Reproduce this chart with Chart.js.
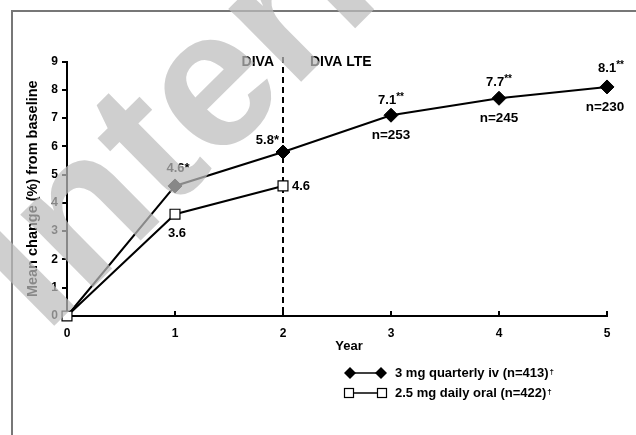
<!DOCTYPE html>
<html>
<head>
<meta charset="utf-8">
<script src="https://cdn.jsdelivr.net/npm/chart.js@4.4.1/dist/chart.umd.min.js"></script>
<style>
  html, body { margin: 0; padding: 0; background: #fff; }
  #wrap { width: 636px; height: 435px; position: relative; }
</style>
</head>
<body>
<div id="wrap"><canvas id="chart"></canvas></div>
<script>
// Data
const years = [0, 1, 2, 3, 4, 5];
const ivValues = [0, 4.6, 5.8, 7.1, 7.7, 8.1];
const ivStars = ['', '*', '*', '**', '**', '**'];
const ivCounts = ['', '', '', 'n=253', 'n=245', 'n=230'];
const oralYears = [0, 1, 2];
const oralValues = [0, 3.6, 4.6];
const ivLegend = '3 mg quarterly iv (n=413)';
const oralLegend = '2.5 mg daily oral (n=422)';
const studySplitYear = 2;
const studyNames = ['DIVA', 'DIVA LTE'];

const FONT = "'Liberation Sans', Arial, sans-serif";
Chart.defaults.font.family = FONT;
Chart.defaults.color = '#000';

function bold(px) { return 'bold ' + px + 'px ' + FONT; }

// draws "5.8" + stars (double stars smaller, raised)
function valueLabel(ctx, value, stars, x, y, align) {
  const main = value.toFixed(1);
  const starSize = stars.length > 1 ? 10 : 13;
  ctx.font = bold(13);
  const w1 = ctx.measureText(main).width;
  ctx.font = bold(starSize);
  const w2 = ctx.measureText(stars).width;
  const total = w1 + w2;
  let left = x - total / 2;
  if (align === 'right') left = x - total;
  if (align === 'left') left = x;
  ctx.textAlign = 'left';
  ctx.textBaseline = 'middle';
  ctx.font = bold(13);
  ctx.fillText(main, left, y);
  ctx.font = bold(starSize);
  ctx.fillText(stars, left + w1, stars.length > 1 ? y - 3 : y);
}

function diamond(ctx, x, y, r) {
  ctx.beginPath();
  ctx.moveTo(x, y - r); ctx.lineTo(x + r, y); ctx.lineTo(x, y + r); ctx.lineTo(x - r, y);
  ctx.closePath();
  ctx.fillStyle = '#000';
  ctx.fill();
}

function square(ctx, x, y, h) {
  ctx.fillStyle = '#fff';
  ctx.fillRect(x - h, y - h, 2 * h, 2 * h);
  ctx.strokeStyle = '#000';
  ctx.lineWidth = 1.2;
  ctx.strokeRect(x - h, y - h, 2 * h, 2 * h);
}

const overlay = {
  id: 'overlay',
  beforeDraw(chart) {
    const ctx = chart.ctx;
    ctx.save();
    ctx.strokeStyle = '#777';
    ctx.lineWidth = 2;
    ctx.beginPath();
    ctx.moveTo(12, chart.height);
    ctx.lineTo(12, 11);
    ctx.lineTo(chart.width, 11);
    ctx.stroke();
    ctx.restore();
  },
  beforeDatasetsDraw(chart) {
    const ctx = chart.ctx;
    const xs = chart.scales.x;
    const ys = chart.scales.y;
    const sx = xs.getPixelForValue(studySplitYear);
    ctx.save();
    ctx.strokeStyle = '#000';
    ctx.lineWidth = 2;
    ctx.setLineDash([6, 4]);
    ctx.beginPath();
    ctx.moveTo(sx, 57);
    ctx.lineTo(sx, ys.getPixelForValue(0));
    ctx.stroke();
    ctx.setLineDash([]);
    ctx.font = bold(14);
    ctx.textBaseline = 'middle';
    ctx.textAlign = 'right';
    ctx.fillText(studyNames[0], sx - 9, 62);
    ctx.textAlign = 'left';
    ctx.fillText(studyNames[1], sx + 27, 62);
    ctx.restore();
  },
  afterDatasetsDraw(chart) {
    const ctx = chart.ctx;
    const xs = chart.scales.x;
    const ys = chart.scales.y;
    const iv = chart.getDatasetMeta(0).data;
    const oral = chart.getDatasetMeta(1).data;
    ctx.save();
    ctx.fillStyle = '#000';

    // value labels, iv
    valueLabel(ctx, ivValues[1], ivStars[1], iv[1].x + 3, iv[1].y - 18, 'center');
    valueLabel(ctx, ivValues[2], ivStars[2], iv[2].x - 4, iv[2].y - 12, 'right');
    const aboveDy = [0, 0, 0, -15, -16, -19];
    for (let i = 3; i < years.length; i++) {
      valueLabel(ctx, ivValues[i], ivStars[i], iv[i].x + (i === 5 ? 4 : 0), iv[i].y + aboveDy[i], 'center');
    }
    ctx.font = bold(13.5);
    ctx.textAlign = 'center';
    ctx.textBaseline = 'middle';
    for (let i = 3; i < years.length; i++) {
      ctx.fillText(ivCounts[i], iv[i].x + (i === 5 ? -2 : 0), iv[i].y + 20);
    }
    // value labels, oral
    ctx.font = bold(13);
    ctx.fillText(oralValues[1].toFixed(1), oral[1].x + 2, oral[1].y + 19);
    ctx.textAlign = 'left';
    ctx.fillText(oralValues[2].toFixed(1), oral[2].x + 9, oral[2].y);

    // x ticks pointing up
    const by = ys.getPixelForValue(0);
    ctx.strokeStyle = '#000';
    ctx.lineWidth = 2;
    for (let i = 1; i < years.length; i++) {
      const px = xs.getPixelForValue(years[i]);
      ctx.beginPath();
      ctx.moveTo(px, by);
      ctx.lineTo(px, by - 5);
      ctx.stroke();
    }

    // axis title
    ctx.font = bold(13);
    ctx.textAlign = 'center';
    ctx.fillText('Year', 349, 346);

    // legend
    const lx1 = 350, lx2 = 381;
    ctx.lineWidth = 1.5;
    ctx.beginPath(); ctx.moveTo(lx1, 373); ctx.lineTo(lx2, 373); ctx.stroke();
    diamond(ctx, lx1, 373, 6);
    diamond(ctx, lx2, 373, 6);
    ctx.strokeStyle = '#000';
    ctx.lineWidth = 1.5;
    ctx.beginPath(); ctx.moveTo(lx1, 393); ctx.lineTo(lx2, 393); ctx.stroke();
    square(ctx, lx1 - 1, 393, 4.5);
    square(ctx, lx2 + 1, 393, 4.5);
    ctx.fillStyle = '#000';
    ctx.font = bold(13);
    ctx.textAlign = 'left';
    ctx.textBaseline = 'middle';
    ctx.fillText(ivLegend, 395, 373);
    let w = ctx.measureText(ivLegend).width;
    ctx.font = bold(8);
    ctx.fillText('\u2020', 395 + w + 1, 372);
    ctx.font = bold(13);
    ctx.fillText(oralLegend, 395, 393);
    w = ctx.measureText(oralLegend).width;
    ctx.font = bold(8);
    ctx.fillText('\u2020', 395 + w + 1, 392);
    ctx.restore();
  },
  afterDraw(chart) {
    // faint diagonal watermark
    const ctx = chart.ctx;
    ctx.save();
    ctx.translate(45, 335);
    ctx.rotate(-0.78);
    ctx.font = 'bold 195px ' + FONT;
    ctx.fillStyle = 'rgba(189,189,189,0.72)';
    ctx.textBaseline = 'alphabetic';
    ctx.fillText('Internet', 0, 0);
    ctx.restore();
  }
};

new Chart(document.getElementById('chart'), {
  type: 'line',
  data: {
    datasets: [
      {
        label: ivLegend,
        data: years.map((x, i) => ({ x: x, y: ivValues[i] })),
        borderColor: '#000',
        borderWidth: 2,
        pointStyle: 'rectRot',
        pointRadius: years.map((x, i) => (i === 0 ? 0 : 7)),
        pointBackgroundColor: '#000',
        pointBorderColor: '#000',
        pointBorderWidth: 1,
        tension: 0,
        clip: false,
        order: 1
      },
      {
        label: oralLegend,
        data: oralYears.map((x, i) => ({ x: x, y: oralValues[i] })),
        borderColor: '#000',
        borderWidth: 2,
        pointStyle: 'rect',
        pointRadius: 7,
        pointBackgroundColor: '#fff',
        pointBorderColor: '#000',
        pointBorderWidth: 1.2,
        tension: 0,
        clip: false,
        order: 0
      }
    ]
  },
  options: {
    responsive: true,
    maintainAspectRatio: false,
    animation: false,
    layout: { padding: { left: 0, top: 61.5, right: 29, bottom: 79 } },
    plugins: { legend: { display: false }, tooltip: { enabled: false } },
    scales: {
      x: {
        type: 'linear',
        min: 0,
        max: 5,
        afterFit(scale) { scale.height = 40; },
        ticks: { stepSize: 1, font: { weight: 'bold', size: 12 }, color: '#000', padding: 10 },
        grid: { drawOnChartArea: false, drawTicks: false },
        border: { color: '#000', width: 2 }
      },
      y: {
        min: 0,
        max: 9,
        afterFit(scale) { scale.width = 67; },
        ticks: { stepSize: 1, font: { weight: 'bold', size: 12 }, color: '#000', padding: 4 },
        grid: { drawOnChartArea: false, drawTicks: true, tickLength: 5, color: '#000', lineWidth: 2 },
        border: { color: '#000', width: 2 },
        title: {
          display: true,
          text: 'Mean change (%) from baseline',
          font: { weight: 'bold', size: 14.5 },
          color: '#000',
          padding: { top: 24, bottom: 0 }
        }
      }
    }
  },
  plugins: [overlay]
});
</script>
</body>
</html>
